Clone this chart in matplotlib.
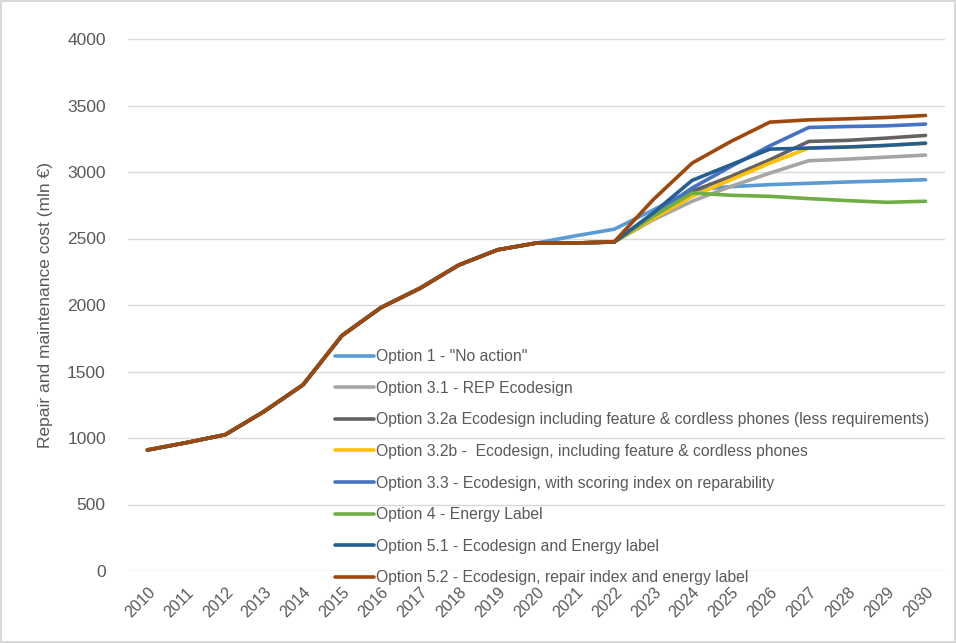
import matplotlib

matplotlib.use("Agg")
import matplotlib.pyplot as plt  # noqa: E402

plt.rcParams.update({
    "font.family": ["Liberation Sans", "DejaVu Sans"],
    "font.size": 10.5,
})

years = list(range(2010, 2031))

# shared history 2010-2020
history = [910, 965, 1025, 1200, 1400, 1770, 1980, 2125, 2300, 2415, 2466]

opt1 = history + [2520, 2570, 2715, 2865, 2890, 2905, 2915, 2925, 2933, 2942]
opt31 = history + [2466, 2474, 2640, 2780, 2892, 2992, 3085, 3097, 3112, 3127]
opt32a = history + [2466, 2474, 2665, 2855, 2967, 3092, 3230, 3238, 3255, 3275]
opt32b = history + [2466, 2474, 2650, 2817, 2942, 3067, 3180, 3187, 3200, 3215]
opt33 = history + [2466, 2474, 2680, 2880, 3042, 3197, 3335, 3342, 3347, 3360]
opt4 = history + [2466, 2474, 2667, 2842, 2825, 2817, 2800, 2785, 2772, 2780]
opt51 = history + [2466, 2474, 2692, 2937, 3055, 3172, 3180, 3188, 3200, 3217]
opt52 = history + [2466, 2476, 2792, 3067, 3230, 3375, 3392, 3400, 3410, 3425]

labels = [
    'Option 1 - "No action"',
    "Option 3.1 - REP Ecodesign",
    "Option 3.2a Ecodesign including feature & cordless phones (less requirements)",
    "Option 3.2b -  Ecodesign, including feature & cordless phones",
    "Option 3.3 - Ecodesign, with scoring index on reparability",
    "Option 4 - Energy Label",
    "Option 5.1 - Ecodesign and Energy label",
    "Option 5.2 - Ecodesign, repair index and energy label",
]
series = [opt1, opt31, opt32a, opt32b, opt33, opt4, opt51, opt52]
colors = ["#5B9BD5", "#A5A5A5", "#636363", "#FFC000", "#4472C4", "#70AD47", "#255E91", "#9E480E"]

TXT = "#595959"
GRID = "#D9D9D9"

fig = plt.figure(figsize=(9.56, 6.43), dpi=100)
fig.patch.set_edgecolor(GRID)
fig.patch.set_linewidth(1.5)
ax = fig.add_axes([128 / 956, 1 - 571 / 643, (945 - 128) / 956, (571 - 39) / 643])

for vals, c, lab in zip(series, colors, labels):
    ax.plot(years, vals, color=c, linewidth=2.6, label=lab, solid_capstyle="round")

ax.set_xlim(2009.5, 2030.5)
ax.set_ylim(0, 4000)
ax.set_yticks(range(0, 4001, 500))
ax.set_xticks(years)
ax.set_xticklabels([str(y) for y in years], rotation=45, ha="right", rotation_mode="anchor")
ax.tick_params(axis="both", length=0, colors=TXT)
ax.tick_params(axis="y", pad=16, labelsize=12.5)
ax.tick_params(axis="x", pad=10, labelsize=11.5)
ax.grid(axis="y", color=GRID, linewidth=1)
ax.set_axisbelow(True)
for s in ("top", "right", "left", "bottom"):
    ax.spines[s].set_visible(False)
ax.set_ylabel("Repair and maintenance cost (mln \u20ac)", fontsize=12.5, color=TXT, labelpad=10)

fig.legend(loc="upper left", bbox_to_anchor=(335 / 956, 1 - 349 / 643),
           frameon=False, borderpad=0, borderaxespad=0, handlelength=2.5,
           handletextpad=0.1, labelspacing=1.06, fontsize=11.3, labelcolor=TXT)

fig.savefig("out.png", dpi=100, facecolor="white", edgecolor=fig.patch.get_edgecolor())
